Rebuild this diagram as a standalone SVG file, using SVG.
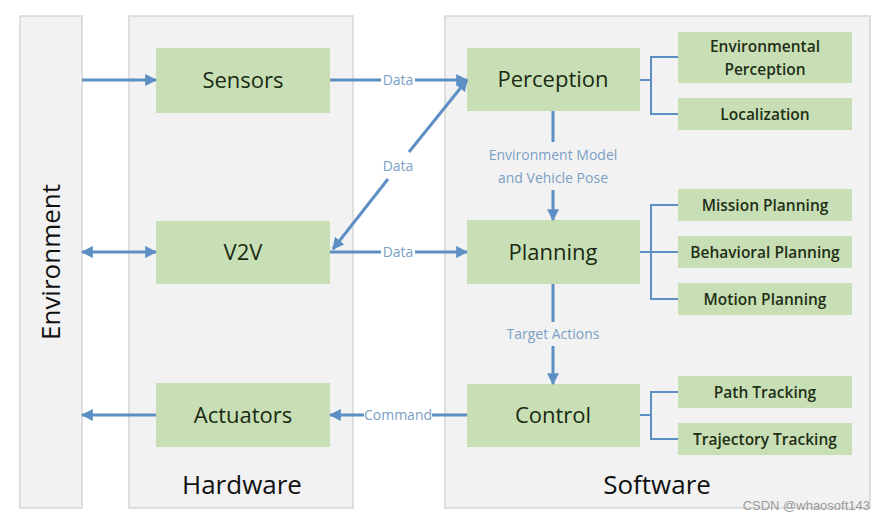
<svg xmlns="http://www.w3.org/2000/svg" width="885" height="521" viewBox="0 0 885 521">
<defs>
<style>
.panel{fill:#f2f2f2;stroke:#d6d6d6;stroke-width:1.5}
.box{fill:#c8dfb5}
.main{font-family:"Open Sans","Liberation Sans",sans-serif;font-size:22px;fill:#1a2a12;text-anchor:middle}
.sub{font-family:"Open Sans","Liberation Sans",sans-serif;font-size:15.5px;font-weight:600;fill:#1f2f17;text-anchor:middle}
.big{font-family:"Open Sans","Liberation Sans",sans-serif;font-size:26px;fill:#111;text-anchor:middle}
.lbl{font-family:"Open Sans","Liberation Sans",sans-serif;font-size:14px;fill:#7ba0c5;text-anchor:middle}
.ln{fill:none;stroke:#5e8fc4;stroke-width:3}
.br{fill:none;stroke:#5e8fc4;stroke-width:2}
</style>
<marker id="ah" viewBox="0 0 10 10" refX="9" refY="5" markerWidth="4" markerHeight="4" orient="auto-start-reverse" markerUnits="strokeWidth">
<path d="M0,0 L10,5 L0,10 z" fill="#5e8fc4"/>
</marker>
</defs>
<rect width="885" height="521" fill="#ffffff"/>
<g id="environment">
<rect class="panel" x="20" y="16" width="62" height="492"/>
<text class="big" transform="translate(60,262) rotate(-90)">Environment</text>
</g>
<g id="hardware">
<rect class="panel" x="129" y="16" width="224" height="492"/>
<text class="big" x="242" y="494">Hardware</text>
</g>
<g id="software">
<rect class="panel" x="445" y="16" width="425" height="492"/>
<text class="big" x="657" y="494">Software</text>
</g>
<g id="sensors"><rect class="box" x="156" y="48" width="174" height="65"/><text class="main" x="243" y="88">Sensors</text></g>
<g id="v2v"><rect class="box" x="156" y="221" width="174" height="63"/><text class="main" x="243" y="260">V2V</text></g>
<g id="actuators"><rect class="box" x="156" y="383" width="174" height="64"/><text class="main" x="243" y="423">Actuators</text></g>
<g id="perception"><rect class="box" x="467" y="48" width="173" height="63"/><text class="main" x="553" y="87">Perception</text></g>
<g id="planning"><rect class="box" x="467" y="220" width="173" height="64"/><text class="main" x="553" y="260">Planning</text></g>
<g id="control"><rect class="box" x="467" y="384" width="173" height="63"/><text class="main" x="553" y="423">Control</text></g>
<g id="env-perception"><rect class="box" x="678" y="32" width="174" height="51"/><text class="sub" x="765" y="52">Environmental</text><text class="sub" x="765" y="75">Perception</text></g>
<g id="localization"><rect class="box" x="678" y="98" width="174" height="32"/><text class="sub" x="765" y="120">Localization</text></g>
<g id="mission-planning"><rect class="box" x="678" y="189" width="174" height="32"/><text class="sub" x="765" y="211">Mission Planning</text></g>
<g id="behavioral-planning"><rect class="box" x="678" y="236" width="174" height="32"/><text class="sub" x="765" y="258">Behavioral Planning</text></g>
<g id="motion-planning"><rect class="box" x="678" y="283" width="174" height="32"/><text class="sub" x="765" y="305">Motion Planning</text></g>
<g id="path-tracking"><rect class="box" x="678" y="376" width="174" height="32"/><text class="sub" x="765" y="398">Path Tracking</text></g>
<g id="trajectory-tracking"><rect class="box" x="678" y="423" width="174" height="32"/><text class="sub" x="765" y="445">Trajectory Tracking</text></g>
<g id="connectors">
<line class="ln" x1="82" y1="80" x2="156" y2="80" marker-end="url(#ah)"/>
<line class="ln" x1="330" y1="80" x2="381" y2="80"/>
<line class="ln" x1="415" y1="80" x2="467" y2="80" marker-end="url(#ah)"/>
<text class="lbl" x="398" y="85">Data</text>
<line class="ln" x1="333" y1="249" x2="388" y2="179" marker-start="url(#ah)"/>
<line class="ln" x1="409" y1="152" x2="467" y2="80" marker-end="url(#ah)"/>
<text class="lbl" x="398" y="171">Data</text>
<line class="ln" x1="330" y1="252" x2="381" y2="252"/>
<line class="ln" x1="415" y1="252" x2="467" y2="252" marker-end="url(#ah)"/>
<text class="lbl" x="398" y="257">Data</text>
<line class="ln" x1="82" y1="252" x2="156" y2="252" marker-start="url(#ah)" marker-end="url(#ah)"/>
<line class="ln" x1="156" y1="415" x2="82" y2="415" marker-end="url(#ah)"/>
<line class="ln" x1="467" y1="415" x2="432" y2="415"/>
<line class="ln" x1="364" y1="415" x2="330" y2="415" marker-end="url(#ah)"/>
<text class="lbl" x="398" y="420">Command</text>
<line class="ln" x1="553" y1="111" x2="553" y2="142"/>
<text class="lbl" x="553" y="160">Environment Model</text>
<text class="lbl" x="553" y="183">and Vehicle Pose</text>
<line class="ln" x1="553" y1="190" x2="553" y2="220" marker-end="url(#ah)"/>
<line class="ln" x1="553" y1="284" x2="553" y2="322"/>
<text class="lbl" x="553" y="339">Target Actions</text>
<line class="ln" x1="553" y1="346" x2="553" y2="384" marker-end="url(#ah)"/>
<path class="br" d="M640,80 H651 M678,57 H651 V114 H678"/>
<path class="br" d="M640,252 H678 M678,205 H651 V299 H678"/>
<path class="br" d="M640,415 H651 M678,392 H651 V439 H678"/>
</g>
<text x="870" y="510" font-family="Liberation Sans,sans-serif" font-size="13" fill="#9a9a9a" text-anchor="end">CSDN @whaosoft143</text>
</svg>
